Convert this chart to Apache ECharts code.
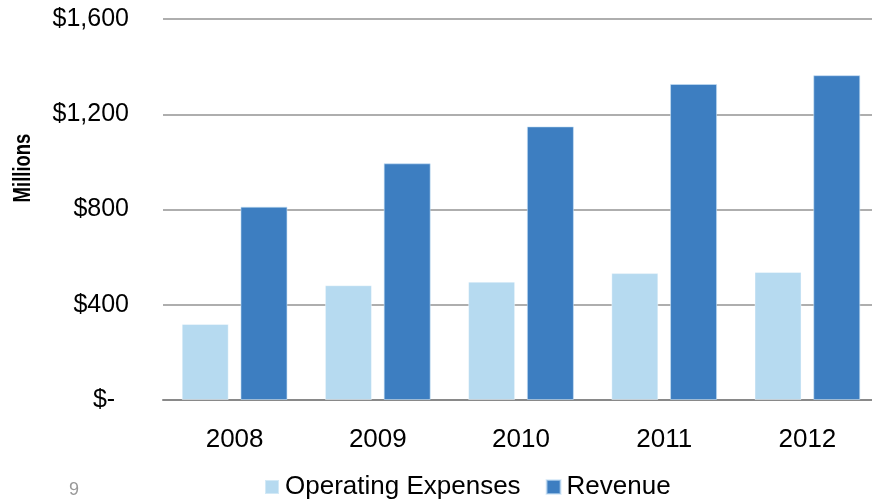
<!DOCTYPE html>
<html>
<head>
<meta charset="utf-8">
<script src="https://cdn.jsdelivr.net/npm/echarts@6/dist/echarts.min.js"></script>
<style>
  html, body { margin: 0; padding: 0; background: #fff; overflow: hidden; }
  #chart { width: 880px; height: 501px; }
</style>
</head>
<body>
<div id="chart"></div>
<script>
var years = ['2008', '2009', '2010', '2011', '2012'];
var opExpenses = [319, 482, 497, 533, 538];
var revenue = [812, 994, 1149, 1327, 1364];
var yTicks = [0, 400, 800, 1200, 1600];

var chart = echarts.init(document.getElementById('chart'));
var font = 'Liberation Sans, Arial, sans-serif';

var option = {
  animation: false,
  color: ['#b6daf0', '#3d7ec1'],
  grid: {
    left: 163,
    top: 19,
    width: 716,
    height: 381
  },
  legend: {
    left: 259,
    top: 469,
    itemWidth: 14,
    itemHeight: 14,
    itemGap: 25,
    icon: 'rect',
    textStyle: { fontFamily: font, fontSize: 26, color: '#000', padding: [0, 0, 0, 1] },
    data: ['Operating Expenses', 'Revenue']
  },
  xAxis: {
    type: 'category',
    data: years,
    axisTick: { show: false },
    axisLine: { lineStyle: { color: '#898989', width: 2 } },
    axisLabel: { fontFamily: font, fontSize: 26, color: '#000', margin: 27 }
  },
  yAxis: {
    type: 'value',
    min: yTicks[0],
    max: yTicks[yTicks.length - 1],
    interval: 400,
    axisLine: { show: false },
    axisTick: { show: false },
    splitLine: { lineStyle: { color: '#939393', width: 1.5 } },
    axisLabel: {
      fontFamily: font, fontSize: 25, color: '#000', margin: 34,
      formatter: function(v) {
        if (v === 0) return '$-  ';
        return '$' + v.toLocaleString('en-US');
      }
    }
  },
  graphic: [
    {
      type: 'text',
      x: 23, y: 168,
      rotation: Math.PI / 2,
      scaleX: 0.77,
      style: { text: 'Millions', font: 'bold 24px ' + font, fill: '#000', align: 'center', verticalAlign: 'middle' }
    },
    {
      type: 'text',
      x: 74, y: 490,
      style: { text: '9', font: '18px ' + font, fill: '#999', align: 'center', verticalAlign: 'middle' }
    }
  ],
  series: [
    {
      name: 'Operating Expenses',
      type: 'bar',
      data: opExpenses,
      barWidth: 47,
      barGap: '25%',
      itemStyle: { borderColor: 'rgba(255,255,255,0.4)', borderWidth: 1 }
    },
    {
      name: 'Revenue',
      type: 'bar',
      data: revenue,
      barWidth: 47,
      itemStyle: { borderColor: 'rgba(200,225,245,0.6)', borderWidth: 1 }
    }
  ]
};
chart.setOption(option);
</script>
</body>
</html>
